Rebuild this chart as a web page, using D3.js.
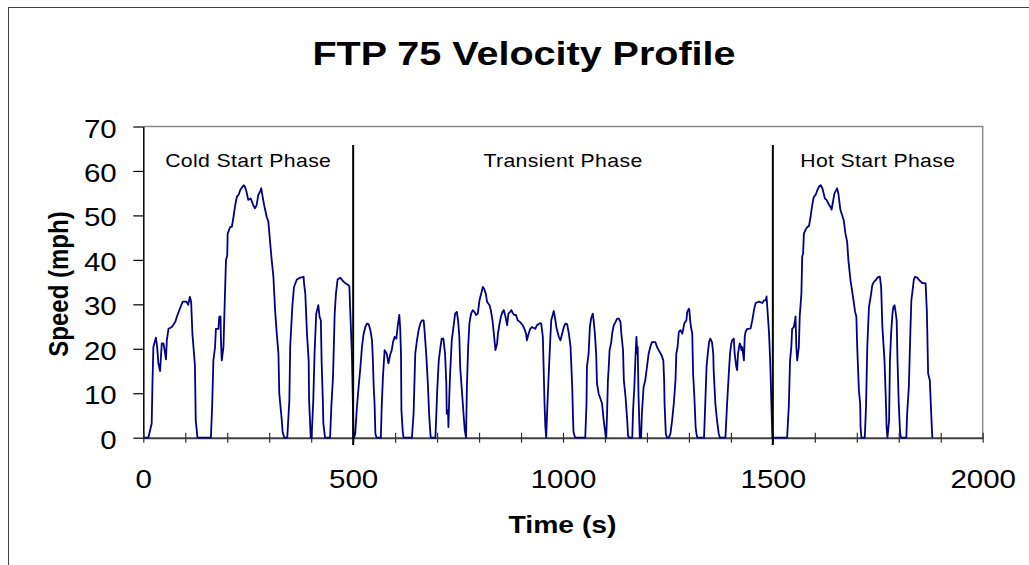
<!DOCTYPE html>
<html>
<head>
<meta charset="utf-8">
<script src="https://cdn.jsdelivr.net/npm/d3@7"></script>
<style>
  body { margin: 0; background: #fff; }
  text { font-family: "Liberation Sans", Arial, sans-serif; fill: #000; }
</style>
</head>
<body>
<div id="chart"></div>
<script>
'use strict';
(function() {
  // Data: time (s) and speed (mph), one pair of arrays per phase
  var coldTime = [0, 12, 20, 22, 24, 30, 33, 36, 40, 44, 48, 52, 54, 56, 60, 68, 76, 80, 87, 94, 103, 107, 111, 114, 117, 123, 125, 129,
    161, 164, 167, 171, 173, 179, 181, 184, 185, 187, 191, 193, 197, 200, 201, 207, 211, 215, 219, 223, 227, 231, 239, 242, 246, 250, 256,
    262, 266, 270, 274, 278, 281, 285, 288, 294, 298, 302, 306, 310, 314, 318, 322, 324, 330, 332, 336,
    343, 348, 350, 355, 359, 366, 374, 382, 383, 386, 390, 394, 395, 399,
    401, 405, 408, 412, 417, 420, 423, 425, 428, 429, 433,
    445, 448, 452, 456, 459, 463, 469, 477, 481, 489, 491, 493, 497, 501];
  var coldSpeed = [0, 0, 3.2, 12.9, 20.4, 22.5, 20.4, 16.7, 15.0, 21.2, 21.2, 19.0, 17.6, 21.9, 24.5, 24.9, 26.0, 27.2, 29.0, 30.6, 30.6, 29.9, 31.7, 30.6, 23.4, 16.3, 3.9, 0,
    0, 6.9, 17.4, 20.4, 24.5, 24.5, 27.2, 27.3, 21.9, 17.4, 20.4, 27.2, 39.9, 41.0, 45.9, 47.4, 47.4, 49.7, 52.3, 54.2, 54.6, 55.7, 56.8, 56.5, 55.3, 53.5, 53.8,
    52.3, 51.6, 52.3, 54.6, 55.3, 56.1, 53.8, 52.3, 49.7, 48.6, 44.1, 39.9, 36.2, 28.7, 23.4, 18.9, 9.9, 3.9, 1.3, 0,
    0, 8.4, 20.4, 29.4, 33.9, 35.6, 36.0, 36.2, 34.7, 32.4, 23.4, 17.4, 8.4, 0,
    0, 8.4, 18.9, 27.9, 29.8, 27.2, 26.4, 16.7, 7.7, 3.2, 0,
    0, 6.9, 13.7, 27.9, 32.4, 35.6, 36.0, 35.1, 34.8, 34.3, 34.0, 28.7, 18.9, 0];

  var transientTime = [502, 505, 509, 513, 517, 521, 525, 529, 533, 537, 541, 545, 547, 549, 551, 553, 556,
    566, 568, 571, 575, 580, 584, 588, 592, 595, 599, 603, 606, 608, 610, 612, 614, 615, 618, 620,
    640, 644, 648, 652, 656, 660, 664, 668, 670, 674, 678, 681, 684, 685,
    696, 700, 704, 708, 711, 715, 719, 722, 723, 726, 727, 729, 731, 735, 739, 743, 747, 750, 753, 755, 759, 763, 766, 769,
    771, 774, 777, 781, 785, 789, 793, 797, 801, 805, 809, 812, 816, 819, 825, 828, 832, 836, 839, 843, 845, 849, 852, 856, 859,
    863, 867, 870, 874, 877, 881, 884, 888, 892, 898, 904, 908, 912, 914, 918, 922, 926, 934, 938, 944, 948, 950, 952, 956, 958, 960,
    962, 966, 970, 972, 978, 982, 984, 990, 994, 998, 1002, 1006, 1010, 1014, 1018, 1022, 1024, 1025, 1029,
    1053, 1056, 1057, 1061, 1064, 1067, 1071, 1073, 1076, 1079, 1081, 1085, 1089, 1093, 1097, 1101, 1103,
    1105, 1107, 1109, 1111, 1115, 1117, 1121, 1125, 1129, 1133, 1137, 1139, 1143, 1145, 1149, 1153, 1155, 1158,
    1165, 1167, 1170, 1173, 1175, 1177, 1178, 1180, 1183,
    1186, 1188, 1192, 1196, 1200, 1204, 1208, 1212, 1220, 1224, 1228, 1235, 1239, 1241, 1242, 1245, 1248,
    1252, 1256, 1260, 1264, 1268, 1270, 1273, 1276, 1280, 1284, 1286, 1289, 1294, 1296, 1300, 1301, 1303, 1305, 1308, 1310, 1313, 1316, 1318, 1320,
    1336, 1339, 1342, 1345, 1348, 1351, 1355, 1358, 1359, 1361, 1363, 1367, 1371, 1374,
    1387, 1391, 1395, 1398, 1401, 1403, 1407, 1409, 1413, 1415, 1417, 1421, 1423, 1425, 1427, 1429, 1431, 1433, 1435, 1439, 1443, 1447,
    1451, 1455, 1459, 1467, 1475, 1479, 1483, 1485, 1487, 1491, 1494, 1497, 1499];
  var transientSpeed = [0, 0.9, 6.9, 11.4, 15.5, 20.4, 23.4, 24.9, 25.7, 25.5, 24.2, 21.9, 17.4, 11.4, 7.7, 0.9, 0,
    0, 6.9, 13.7, 19.7, 18.9, 16.7, 18.6, 19.7, 21.5, 22.7, 22.3, 24.9, 26.4, 27.6, 24.9, 18.9, 6.2, 1.6, 0,
    0, 5.4, 18.9, 21.9, 24.2, 25.7, 26.4, 26.4, 24.2, 18.9, 12.2, 5.4, 0.9, 0,
    0, 9.9, 17.4, 20.4, 22.3, 22.3, 18.9, 12.2, 5.4, 6.2, 2.4, 9.2, 14.4, 21.9, 24.9, 27.9, 28.3, 26.4, 22.7, 15.9, 10.7, 5.4, 1.6, 0,
    11.4, 20.4, 25.7, 27.9, 28.7, 28.3, 27.6, 27.9, 30.9, 32.4, 33.9, 33.5, 32.4, 30.6, 29.8, 28.7, 26.4, 22.7, 19.7, 21.2, 23.4, 25.7, 27.2, 28.3, 28.7,
    27.2, 25.3, 27.9, 28.3, 28.7, 27.9, 27.6, 27.6, 26.4, 26.0, 25.3, 24.5, 23.4, 21.9, 23.4, 24.5, 24.9, 24.5, 25.3, 25.7, 25.7, 24.2, 22.7, 7.7, 2.4, 0,
    5.4, 14.4, 22.7, 26.4, 28.5, 26.4, 24.9, 22.7, 21.9, 23.4, 24.9, 25.7, 25.5, 23.4, 20.4, 11.4, 3.9, 1.3, 0,
    0, 7.7, 15.9, 18.9, 24.9, 26.8, 27.9, 26.4, 23.4, 18.9, 12.2, 9.9, 8.8, 7.7, 3.9, 0.9, 0,
    5.4, 12.9, 15.9, 19.7, 21.5, 23.4, 25.3, 26.0, 26.8, 26.8, 26.0, 23.4, 19.7, 12.9, 9.2, 3.9, 0.5, 0,
    0, 6.2, 11.4, 18.9, 22.7, 18.9, 20.4, 9.2, 0,
    0, 5.4, 11.4, 12.9, 15.9, 18.9, 20.4, 21.5, 21.5, 20.4, 19.7, 18.5, 17.4, 12.9, 7.7, 0.9, 0,
    0, 0.9, 3.9, 7.7, 12.9, 18.9, 20.4, 23.8, 24.2, 23.4, 24.2, 25.7, 26.4, 28.3, 29.0, 28.7, 26.4, 24.9, 23.4, 14.4, 9.2, 2.4, 0.9, 0,
    0, 7.7, 15.9, 18.9, 21.5, 22.3, 21.5, 18.9, 15.2, 11.4, 7.7, 3.9, 0.9, 0,
    0, 7.7, 14.4, 18.9, 21.2, 21.9, 22.3, 18.9, 15.9, 15.2, 18.9, 21.2, 20.8, 19.7, 20.4, 18.9, 17.4, 22.7, 23.8, 24.5, 24.5, 24.6,
    26.4, 28.7, 30.3, 30.6, 30.3, 30.9, 30.9, 31.8, 29.0, 23.4, 16.3, 6.0, 0];

  var hotTime = [1500, 1534, 1537, 1538, 1541, 1544, 1546, 1550, 1553, 1554, 1556, 1558, 1560, 1562, 1564, 1568, 1570, 1572, 1574,
    1578, 1582, 1586, 1590, 1592, 1596, 1598, 1602, 1606, 1610, 1614, 1618, 1622, 1624, 1628, 1632, 1638, 1640, 1644, 1647, 1651,
    1653, 1656, 1659, 1661, 1665, 1669, 1673, 1677, 1680, 1685, 1691, 1696, 1699, 1701, 1705, 1708, 1709, 1711,
    1719, 1722, 1725, 1729, 1733, 1737, 1741, 1745, 1749, 1753, 1755, 1758, 1761, 1763, 1766, 1769, 1771, 1773,
    1777, 1779, 1782, 1785, 1787, 1790, 1793, 1795, 1797, 1800, 1803, 1805,
    1818, 1820, 1824, 1828, 1830, 1832, 1836, 1839, 1844, 1850, 1856, 1864, 1867, 1870, 1874, 1878, 1880];
  var hotSpeed = [0, 0, 5.4, 6.9, 17.4, 20.4, 24.5, 24.9, 26.4, 27.3, 20.4, 17.4, 18.9, 20.4, 27.2, 32.4, 40.8, 41.4, 45.9,
    46.8, 47.4, 47.6, 49.7, 51.2, 53.5, 54.2, 54.6, 55.7, 56.5, 56.8, 56.1, 54.6, 53.8, 53.5, 52.7, 51.8, 51.3, 53.5, 55.0, 55.7,
    56.1, 55.0, 52.7, 51.2, 50.1, 48.9, 45.9, 44.1, 39.9, 35.4, 31.7, 28.3, 27.2, 20.4, 10.7, 7.7, 2.4, 0,
    0, 6.9, 20.4, 29.4, 31.7, 34.3, 35.1, 35.4, 36.0, 36.2, 36.2, 33.9, 24.9, 21.9, 17.4, 9.2, 2.4, 0,
    3.9, 17.4, 23.8, 27.9, 29.4, 29.8, 27.9, 26.4, 17.4, 7.7, 1.3, 0,
    0, 5.4, 11.4, 24.9, 30.9, 32.4, 35.6, 36.2, 36.0, 35.3, 34.8, 34.7, 28.3, 14.4, 12.9, 3.9, 0];

  var phaseNames = ['Cold Start Phase', 'Transient Phase', 'Hot Start Phase'];
  var phaseStart = [0, 500, 1500];
  var phaseEnd = [500, 1500, 2000];
  var phaseBreaks = [500, 1500];

  var xTickLabels = [0, 500, 1000, 1500, 2000];
  var xMinorTicks = d3.range(0, 2001, 100);
  var yTickLabels = [0, 10, 20, 30, 40, 50, 60, 70];

  // Size of the page and of the plot area
  var w = 1029;
  var h = 565;
  var left = 143.3;
  var right = 982.7;
  var top = 126.5;
  var bottom = 437.7;
  // the picture is a little stretched sideways, so is the text
  var stretch = 1.18;

  var points = [];
  [[coldTime, coldSpeed], [transientTime, transientSpeed], [hotTime, hotSpeed]].forEach(function(p) {
    for (var i = 0; i < p[0].length; i++) {
      points.push({t: p[0][i], v: p[1][i]});
    }
  });

  var xScale = d3.scaleLinear().domain([0, 2000]).range([left, right]);
  var yScale = d3.scaleLinear().domain([0, 70]).range([bottom, top]);

  var svg = d3.select('#chart')
    .append('svg')
    .attr('width', w)
    .attr('height', h);

  // Outer frame, runs off the right and bottom of the picture
  svg.append('rect')
    .attr('x', 8.5)
    .attr('y', 7.5)
    .attr('width', w + 20)
    .attr('height', h + 20)
    .attr('fill', 'none')
    .attr('stroke', '#404040')
    .attr('stroke-width', 1);

  // Plot area border (top and right)
  svg.append('path')
    .attr('d', 'M' + left + ',' + top + 'H' + right + 'V' + bottom)
    .attr('fill', 'none')
    .attr('stroke', '#8a8a8a')
    .attr('stroke-width', 1.5);

  // Title
  svg.append('text')
    .attr('transform', 'translate(524,65) scale(' + stretch + ',1)')
    .attr('text-anchor', 'middle')
    .attr('font-size', 33.5)
    .attr('font-weight', 'bold')
    .text('FTP 75 Velocity Profile');

  // Y axis
  var yAxis = d3.axisLeft(yScale)
    .tickValues(yTickLabels)
    .tickSize(10)
    .tickSizeOuter(0);
  var gy = svg.append('g')
    .attr('transform', 'translate(' + left + ',0)')
    .call(yAxis);
  gy.select('.domain').attr('stroke', '#000').attr('stroke-width', 1.5);
  gy.selectAll('.tick line').attr('stroke', '#000').attr('stroke-width', 1.2);
  gy.selectAll('.tick text')
    .attr('x', -26.6 / stretch)
    .attr('dy', '0.42em')
    .attr('transform', 'scale(' + stretch + ',1)')
    .attr('font-size', 25)
    .attr('font-family', '"Liberation Sans", Arial, sans-serif')
    .attr('fill', '#000');

  // X axis: small ticks every 100 s crossing the line
  var xAxisMinor = d3.axisBottom(xScale)
    .tickValues(xMinorTicks)
    .tickFormat('')
    .tickSize(5)
    .tickSizeOuter(0);
  var gx = svg.append('g')
    .attr('transform', 'translate(0,' + bottom + ')')
    .call(xAxisMinor);
  gx.select('.domain').attr('stroke', '#404040').attr('stroke-width', 2);
  gx.selectAll('.tick line')
    .attr('y1', -5)
    .attr('y2', 5)
    .attr('stroke', '#303030')
    .attr('stroke-width', 1.2);

  // X axis labels
  var xAxisLabels = d3.axisBottom(xScale)
    .tickValues(xTickLabels)
    .tickFormat(d3.format('d'))
    .tickSize(0);
  var gxl = svg.append('g')
    .attr('transform', 'translate(0,' + bottom + ')')
    .call(xAxisLabels);
  gxl.select('.domain').remove();
  gxl.selectAll('.tick text')
    .attr('y', 50.5)
    .attr('dy', 0)
    .attr('transform', 'scale(' + stretch + ',1)')
    .attr('font-size', 25)
    .attr('font-family', '"Liberation Sans", Arial, sans-serif')
    .attr('fill', '#000');

  // Axis titles
  svg.append('text')
    .attr('transform', 'translate(562.5,533) scale(' + stretch + ',1)')
    .attr('text-anchor', 'middle')
    .attr('font-size', 24)
    .attr('font-weight', 'bold')
    .text('Time (s)');

  svg.append('text')
    .attr('transform', 'translate(68,284) scale(' + stretch + ',1) rotate(-90)')
    .attr('text-anchor', 'middle')
    .attr('font-size', 24)
    .attr('font-weight', 'bold')
    .text('Speed (mph)');

  // Speed trace
  var line = d3.line()
    .x(function(d) { return xScale(d.t); })
    .y(function(d) { return yScale(d.v); });

  svg.append('path')
    .datum(points)
    .attr('d', line)
    .attr('fill', 'none')
    .attr('stroke', '#000080')
    .attr('stroke-width', 1.8)
    .attr('stroke-linejoin', 'round');

  // Phase boundaries
  svg.selectAll('.phase-line')
    .data(phaseBreaks)
    .enter()
    .append('line')
    .attr('class', 'phase-line')
    .attr('x1', function(d) { return xScale(d); })
    .attr('x2', function(d) { return xScale(d); })
    .attr('y1', 145)
    .attr('y2', 445)
    .attr('stroke', '#000')
    .attr('stroke-width', 2);

  // Phase labels
  svg.selectAll('.phase-label')
    .data(phaseNames)
    .enter()
    .append('text')
    .attr('class', 'phase-label')
    .attr('transform', function(d, i) {
      return 'translate(' + xScale((phaseStart[i] + phaseEnd[i]) / 2) + ',167) scale(' + stretch + ',1)';
    })
    .attr('text-anchor', 'middle')
    .attr('font-size', 18)
    .attr('letter-spacing', 0.3)
    .text(function(d) { return d; });
})();
</script>
</body>
</html>
